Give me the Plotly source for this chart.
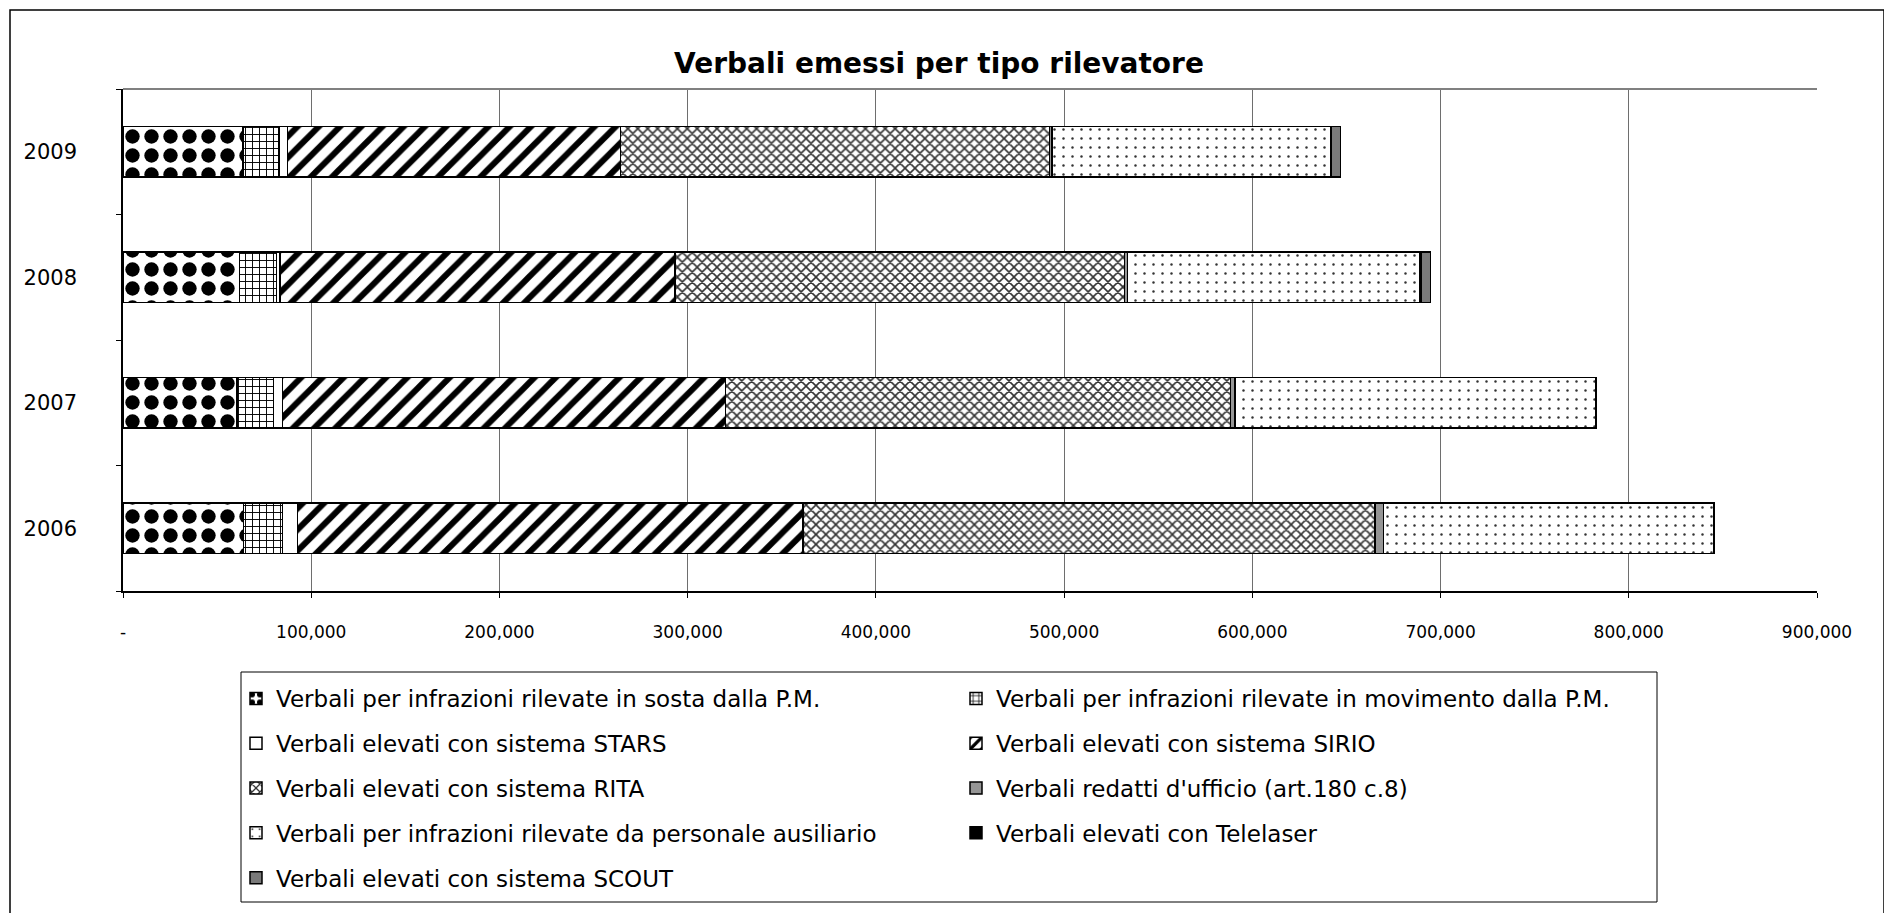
import plotly.graph_objects as go

# ---- data ----
years = ["2006", "2007", "2008", "2009"]
series_names = [
    "Verbali per infrazioni rilevate in sosta dalla P.M.",
    "Verbali per infrazioni rilevate in movimento dalla P.M.",
    "Verbali elevati con sistema STARS",
    "Verbali elevati con sistema SIRIO",
    "Verbali elevati con sistema RITA",
    "Verbali redatti d'ufficio (art.180 c.8)",
    "Verbali per infrazioni rilevate da personale ausiliario",
    "Verbali elevati con Telelaser",
    "Verbali elevati con sistema SCOUT",
]
sosta = [64100, 60600, 62000, 63800]
movimento = [20600, 19300, 19500, 19100]
stars = [8000, 4800, 1800, 4500]
sirio = [268700, 235500, 210000, 176900]
rita = [303700, 268300, 238700, 228000]
ufficio = [4600, 2200, 1800, 1200]
ausiliario = [175700, 191800, 155400, 147900]
telelaser = [0, 0, 500, 500]
scout = [0, 0, 5000, 5000]

x_tickvals = [0, 100000, 200000, 300000, 400000, 500000, 600000, 700000, 800000, 900000]
x_ticktext = ["-", "100,000", "200,000", "300,000", "400,000", "500,000",
              "600,000", "700,000", "800,000", "900,000"]

values = [sosta, movimento, stars, sirio, rita, ufficio, ausiliario, telelaser, scout]

# ---- styles ----
styles = [
    dict(color="white", pattern=dict(shape=".", fgcolor="black", bgcolor="white", size=19, solidity=0.45)),
    dict(color="white", pattern=dict(shape="+", fgcolor="black", bgcolor="white", size=7, solidity=0.25)),
    dict(color="white"),
    dict(color="white", pattern=dict(shape="/", fgcolor="black", bgcolor="white", size=15, solidity=0.4)),
    dict(color="white", pattern=dict(shape="x", fgcolor="#333333", bgcolor="white", size=7, solidity=0.4)),
    dict(color="#969696"),
    dict(color="white", pattern=dict(shape=".", fgcolor="#333333", bgcolor="white", size=9, solidity=0.06)),
    dict(color="black"),
    dict(color="#7a7a7a"),
]
legend_of = ["legend", "legend2", "legend", "legend2", "legend", "legend2", "legend", "legend2", "legend"]

OFF = 8  # page body margin
W, H = 1892 - OFF, 913 - OFF
L, R_PX, T, B_PX = 123 - OFF, 1817 - OFF, 89 - OFF, 591 - OFF
PW, PH = R_PX - L, B_PX - T


def px_x(win_px):
    return (win_px - OFF - L) / PW


def px_y(win_py):
    return (B_PX - (win_py - OFF)) / PH


fig = go.Figure()
for i, (name, vals) in enumerate(zip(series_names, values)):
    st = styles[i]
    marker = dict(color=st["color"], line=dict(color="black", width=1.5))
    if "pattern" in st:
        marker["pattern"] = dict(fillmode="replace", **st["pattern"])
    fig.add_trace(go.Bar(
        y=years, x=vals, name=name, orientation="h", marker=marker,
        legend=legend_of[i], legendgroup=f"g{i}",
    ))

legend_font = dict(family="DejaVu Sans", size=23, color="black")
fig.update_layout(
    width=W, height=H,
    barmode="stack", bargap=0.594,
    paper_bgcolor="white", plot_bgcolor="white",
    margin=dict(l=L, r=W - R_PX, t=T, b=H - B_PX, pad=0),
    font=dict(family="DejaVu Sans", color="black"),
    title=dict(text="<b>Verbali emessi per tipo rilevatore</b>", x=(939 - OFF) / W, xref="container",
               xanchor="center", y=1 - (63 - OFF) / H, yref="container", yanchor="middle",
               font=dict(family="DejaVu Sans", size=28, color="black")),
    xaxis=dict(range=[0, 900000], tickvals=x_tickvals, ticktext=x_ticktext,
               showgrid=True, gridcolor="#6e6e6e", gridwidth=1,
               showline=True, linecolor="black", linewidth=1.5,
               ticks="outside", ticklen=5, tickcolor="black", ticklabelstandoff=20,
               tickfont=dict(family="DejaVu Sans", size=17, color="black"), zeroline=False),
    yaxis=dict(type="category", categoryorder="array", categoryarray=years,
               showline=True, linecolor="black", linewidth=1.5,
               ticks="outside", ticklen=5, tickcolor="black", tickson="boundaries",
               ticklabelstandoff=40,
               tickfont=dict(family="DejaVu Sans", size=21, color="black"), showgrid=False),
    legend=dict(x=px_x(236), xanchor="left", y=px_y(677), yanchor="top",
                orientation="v", traceorder="grouped", tracegroupgap=11.9,
                font=legend_font, bgcolor="rgba(0,0,0,0)"),
    legend2=dict(x=px_x(956), xanchor="left", y=px_y(677), yanchor="top",
                 orientation="v", traceorder="grouped", tracegroupgap=11.9,
                 font=legend_font, bgcolor="rgba(0,0,0,0)"),
    shapes=[
        dict(type="rect", xref="paper", yref="paper", x0=px_x(10), x1=px_x(1884),
             y0=px_y(940), y1=px_y(10), line=dict(color="black", width=1.5), layer="below"),
        dict(type="rect", xref="paper", yref="paper", x0=px_x(241), x1=px_x(1657),
             y0=px_y(902), y1=px_y(672), line=dict(color="black", width=1)),
        dict(type="line", xref="paper", yref="paper", x0=0, x1=1, y0=1, y1=1,
             line=dict(color="#808080", width=2)),
    ],
)

fig.write_html("out.html")
